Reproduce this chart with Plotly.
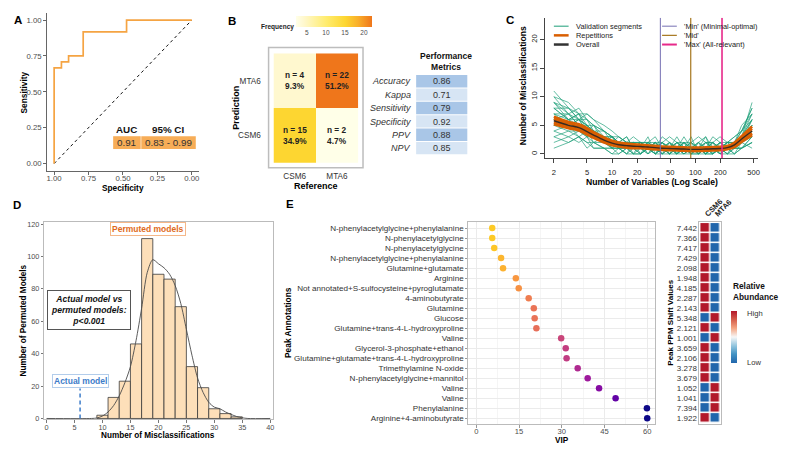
import plotly.graph_objects as go

W, H = 800, 457
def fx(p): return p / W
def fy(p): return 1 - p / H

FONT = "Liberation Sans, Arial, sans-serif"

# ---------------- Panel A : ROC ----------------
roc_spec = [1.0, 1.0, 0.947, 0.947, 0.895, 0.895, 0.789, 0.789, 0.474, 0.474, 0.0]
roc_sens = [0.0, 0.667, 0.667, 0.708, 0.708, 0.75, 0.75, 0.917, 0.917, 1.0, 1.0]
auc_headers = ["AUC", "95% CI"]
auc_values = ["0.91", "0.83 - 0.99"]
a_ticks = [0, 0.25, 0.5, 0.75, 1.0]
a_ticktext = ["0.00", "0.25", "0.50", "0.75", "1.00"]

# ---------------- Panel B : confusion matrix ----------------
cm_reference = ["CSM6", "MTA6"]
cm_prediction = ["CSM6", "MTA6"]
cm_counts = [[15, 2], [4, 22]]          # rows: prediction CSM6, MTA6 ; cols: reference
cm_percent = [["34.9%", "4.7%"], ["9.3%", "51.2%"]]
freq_ticks = [5, 10, 15, 20]
metric_names = ["Accuracy", "Kappa", "Sensitivity", "Specificity", "PPV", "NPV"]
metric_values = ["0.86", "0.71", "0.79", "0.92", "0.88", "0.85"]

# ---------------- Panel C : MUVR validation curves ----------------
n_vars = [2, 3, 4, 5, 6, 8, 10, 12, 15, 18, 22, 27, 33, 40, 49, 60, 73, 89, 109, 133, 162, 198, 242, 295, 360, 480]
validation_segments = [
    [8, 6, 7, 5, 4, 3, 2, 2, 1, 2, 1, 1, 2, 1, 1, 0, 1, 1, 0, 1, 1, 1, 2, 2, 3, 6],
    [5, 6, 4, 5, 3, 2, 3, 1, 2, 1, 2, 1, 1, 2, 1, 1, 0, 1, 1, 0, 1, 2, 1, 1, 2, 4],
    [11, 8, 6, 6, 5, 4, 2, 3, 2, 2, 1, 2, 3, 1, 0, 1, 1, 0, 1, 1, 0, 1, 1, 2, 3, 5],
    [3, 4, 3, 2, 2, 1, 1, 0, 1, 1, 1, 0, 1, 0, 1, 0, 0, 1, 0, 1, 1, 0, 1, 1, 1, 2],
    [7, 7, 5, 4, 4, 2, 2, 1, 1, 2, 2, 1, 1, 3, 2, 1, 1, 2, 1, 1, 2, 1, 1, 2, 4, 7],
    [9, 7, 8, 6, 4, 3, 2, 2, 3, 1, 1, 2, 2, 1, 1, 2, 1, 1, 2, 1, 3, 2, 1, 1, 3, 5],
    [4, 3, 4, 3, 2, 2, 1, 2, 1, 1, 0, 1, 0, 1, 0, 1, 1, 0, 1, 0, 0, 1, 0, 1, 2, 3],
    [6, 5, 6, 4, 3, 3, 3, 2, 2, 1, 2, 1, 1, 1, 1, 1, 2, 1, 1, 1, 0, 1, 2, 1, 2, 4],
    [10, 9, 7, 7, 6, 5, 4, 3, 2, 2, 2, 2, 1, 2, 1, 3, 1, 1, 2, 3, 1, 1, 1, 2, 2, 6],
    [2, 3, 2, 3, 1, 1, 1, 1, 0, 1, 1, 1, 0, 0, 1, 1, 0, 1, 1, 1, 1, 0, 0, 1, 2, 1],
    [7, 6, 5, 5, 5, 4, 3, 2, 2, 2, 1, 1, 2, 2, 1, 2, 1, 3, 0, 1, 1, 2, 2, 2, 3, 9],
    [5, 4, 4, 3, 3, 2, 1, 1, 1, 0, 1, 2, 1, 0, 1, 0, 1, 1, 1, 0, 1, 1, 1, 1, 1, 3],
    [8, 8, 6, 4, 3, 3, 2, 1, 2, 1, 1, 1, 1, 1, 2, 1, 2, 1, 1, 2, 1, 1, 2, 3, 4, 8],
    [1, 2, 3, 1, 2, 1, 0, 1, 0, 0, 0, 1, 0, 1, 0, 0, 1, 0, 0, 0, 1, 0, 1, 0, 1, 2],
    [6, 5, 5, 4, 3, 2, 2, 2, 1, 1, 1, 0, 1, 1, 0, 1, 0, 1, 1, 0, 0, 1, 1, 0, 2, 5],
    [9, 8, 7, 6, 5, 3, 3, 2, 1, 2, 2, 1, 2, 1, 2, 1, 2, 2, 1, 2, 2, 1, 2, 2, 5, 7],
    [3, 2, 3, 2, 1, 1, 0, 0, 1, 0, 0, 1, 0, 1, 1, 0, 1, 0, 0, 1, 0, 1, 0, 0, 1, 2],
    [7, 5, 6, 5, 4, 4, 3, 3, 2, 3, 2, 2, 1, 2, 3, 2, 1, 2, 3, 2, 2, 3, 2, 3, 4, 6],
    [4, 5, 3, 4, 3, 2, 2, 1, 1, 1, 0, 1, 1, 0, 0, 1, 0, 0, 1, 0, 1, 0, 1, 1, 1, 3],
    [10, 7, 6, 7, 6, 4, 3, 2, 2, 1, 2, 1, 2, 1, 1, 2, 2, 1, 1, 2, 1, 2, 1, 2, 4, 8],
    [6, 7, 5, 3, 4, 3, 1, 2, 1, 2, 0, 2, 1, 2, 0, 2, 1, 2, 0, 2, 1, 1, 0, 2, 3, 6],
    [8, 6, 6, 5, 4, 2, 2, 1, 2, 0, 2, 0, 2, 0, 2, 0, 2, 0, 2, 0, 2, 0, 2, 1, 2, 4],
    [5, 5, 4, 4, 2, 3, 1, 1, 0, 2, 1, 3, 0, 2, 1, 1, 3, 1, 1, 3, 0, 2, 1, 2, 3, 7],
    [9, 6, 7, 4, 5, 2, 3, 2, 3, 1, 2, 1, 0, 1, 2, 0, 1, 1, 2, 1, 2, 1, 1, 1, 2, 5],
]
repetitions = [
    [6.5, 5.6, 5.2, 4.5, 3.8, 2.9, 2.3, 2.0, 1.8, 1.7, 1.6, 1.5, 1.4, 1.3, 1.25, 1.2, 1.15, 1.1, 1.1, 1.15, 1.2, 1.25, 1.4, 2.0, 3.1, 4.8],
    [5.2, 4.5, 4.1, 3.4, 2.8, 2.0, 1.5, 1.3, 1.1, 1.0, 1.0, 0.9, 0.8, 0.7, 0.65, 0.6, 0.55, 0.5, 0.5, 0.55, 0.6, 0.65, 0.8, 1.2, 2.1, 3.3],
    [6.1, 5.3, 4.8, 4.2, 3.5, 2.6, 2.1, 1.7, 1.6, 1.5, 1.4, 1.3, 1.2, 1.1, 1.05, 1.0, 0.95, 0.9, 0.95, 1.0, 1.0, 1.05, 1.25, 1.8, 2.9, 4.4],
    [5.5, 4.8, 4.3, 3.6, 3.1, 2.2, 1.7, 1.5, 1.3, 1.2, 1.15, 1.1, 1.0, 0.9, 0.85, 0.8, 0.75, 0.7, 0.7, 0.7, 0.8, 0.85, 0.95, 1.4, 2.3, 3.6],
]
overall = [5.8, 5.0, 4.6, 3.9, 3.3, 2.4, 1.9, 1.6, 1.45, 1.35, 1.3, 1.2, 1.1, 1.0, 0.95, 0.9, 0.85, 0.8, 0.8, 0.85, 0.9, 0.95, 1.1, 1.6, 2.6, 4.0]
model_names = ["'Min' (Minimal-optimal)", "'Mid'", "'Max' (All-relevant)"]
model_nvars = [38, 88, 209]
c_xticks = [2, 5, 10, 20, 50, 100, 200, 500]
c_yticks = [0, 5, 10, 15, 20]

# ---------------- Panel D : permutation histogram ----------------
hist_centers = [10, 12, 14, 16, 18, 20, 22, 24, 26, 28, 30, 32, 34]
hist_counts = [2, 13, 23, 46, 111, 89, 86, 69, 32, 19, 6, 3, 1]
dens_x = [0, 8, 9, 10, 11, 12, 13, 14, 15, 16, 17, 18, 19, 20, 21, 22, 23, 24, 25, 26, 27, 28, 29, 30, 31, 32, 33, 34, 35, 36, 40]
dens_y = [0, 0, 0.3, 1.5, 4, 8, 14, 22, 32, 48, 68, 90, 98, 95.5, 93, 89, 82, 71, 55, 39, 25, 16, 10, 7, 6, 4, 2.5, 1.2, 0.4, 0, 0]
actual_model = 6
d_xticks = [0, 5, 10, 15, 20, 25, 30, 35, 40]
d_yticks = [0, 20, 40, 60, 80, 100, 120]

# ---------------- Panel E : VIP + heatmap ----------------
peak_annotations = [
    "N-phenylacetylglycine+phenylalanine", "N-phenylacetylglycine", "N-phenylacetylglycine",
    "N-phenylacetylglycine+phenylalanine", "Glutamine+glutamate", "Arginine",
    "Not annotated+S-sulfocysteine+pyroglutamate", "4-aminobutyrate", "Glutamine", "Glucose",
    "Glutamine+trans-4-L-hydroxyproline", "Valine", "Glycerol-3-phosphate+ethanol",
    "Glutamine+glutamate+trans-4-L-hydroxyproline", "Trimethylamine N-oxide",
    "N-phenylacetylglycine+mannitol", "Valine", "Valine", "Phenylalanine", "Arginine+4-aminobutyrate",
]
vip = [5.6, 5.6, 6.3, 8.7, 9.4, 13.9, 14.9, 18.4, 20.2, 20.5, 21.1, 29.8, 31.4, 31.7, 35.6, 39.1, 43.1, 48.9, 59.9, 60.0]
ppm = ["7.442", "7.366", "7.417", "7.429", "2.098", "1.948", "4.185", "2.287", "2.143", "5.348",
       "2.121", "1.001", "3.659", "2.106", "3.278", "3.679", "1.052", "1.041", "7.394", "1.922"]
csm6_abundance = [1, 1, 1, 1, 1, 1, 1, 1, 1, -1, 1, -1, 1, 1, 1, 1, -1, -1, -1, 1]
mta6_abundance = [-1, -1, -1, -1, -1, -1, -1, -1, -1, 1, -1, 1, -1, -1, -1, -1, 1, 1, 1, -1]
groups = ["CSM6", "MTA6"]
e_xticks = [0, 15, 30, 45, 60]

plasma_rev = ['#fdca26', '#fb9f3a', '#ed7953', '#d8576b', '#bd3786', '#9c179e', '#7201a8', '#46039f', '#0d0887']
plasma_scale = [[i / (len(plasma_rev) - 1), c] for i, c in enumerate(plasma_rev)]
rdbu_scale = [[0, '#2166AC'], [0.17, '#4393C3'], [0.33, '#92C5DE'], [0.5, '#F7F7F7'],
              [0.67, '#F4A582'], [0.83, '#D6604D'], [1, '#B2182B']]
freq_scale = [[0, '#FFFFE8'], [0.1, '#FFF8CF'], [0.4, '#FFEC6E'], [0.65, '#FDD631'],
              [0.82, '#F9AE2A'], [1, '#EF761B']]

fig = go.Figure()

# ---- A traces
fig.add_trace(go.Scatter(x=[1, 0], y=[0, 1], mode='lines', xaxis='x', yaxis='y',
                         line=dict(color='#111', width=1, dash='3px,3px'), hoverinfo='skip'))
fig.add_trace(go.Scatter(x=roc_spec, y=roc_sens, mode='lines', xaxis='x', yaxis='y',
                         line=dict(color='#F5A443', width=1.7), hoverinfo='skip'))

# ---- B heatmap
fig.add_trace(go.Heatmap(z=cm_counts, x=[0, 1], y=[0, 1], xaxis='x2', yaxis='y2',
                         colorscale=freq_scale, zmin=2, zmax=22, hoverinfo='skip',
                         colorbar=dict(orientation='h', x=fx(338), xanchor='center', y=fy(14.5), yanchor='top',
                                       len=76, lenmode='pixels', thickness=11, thicknessmode='pixels',
                                       xpad=0, ypad=0, outlinewidth=0, tickvals=freq_ticks, ticks='',
                                       tickfont=dict(size=6.5, color='#4D4D4D', family=FONT))))

# ---- C traces
for seg in validation_segments:
    fig.add_trace(go.Scatter(x=n_vars, y=seg, mode='lines', xaxis='x3', yaxis='y3', opacity=0.75,
                             line=dict(color='#1B9E77', width=0.9), hoverinfo='skip'))
for rep in repetitions:
    fig.add_trace(go.Scatter(x=n_vars, y=rep, mode='lines', xaxis='x3', yaxis='y3',
                             line=dict(color='#D95F02', width=2.6, shape='spline'), hoverinfo='skip'))
fig.add_trace(go.Scatter(x=n_vars, y=overall, mode='lines', xaxis='x3', yaxis='y3',
                         line=dict(color='#3A2A20', width=1.4, shape='spline'), hoverinfo='skip'))
model_colors = ['#7570B3', '#A6761D', '#E7298A']
model_widths = [1.0, 1.2, 1.6]
for v, c, w in zip(model_nvars, model_colors, model_widths):
    fig.add_trace(go.Scatter(x=[v, v], y=[-0.7, 23.8], mode='lines', xaxis='x3', yaxis='y3',
                             line=dict(color=c, width=w), hoverinfo='skip'))

# ---- D traces
fig.add_trace(go.Bar(x=hist_centers, y=hist_counts, width=2, xaxis='x4', yaxis='y4',
                     marker=dict(color='#FDDFB9', line=dict(color='#3A3A3A', width=0.8)), hoverinfo='skip'))
fig.add_trace(go.Scatter(x=dens_x, y=dens_y, mode='lines', xaxis='x4', yaxis='y4',
                         line=dict(color='#4A4A4A', width=0.9, shape='spline', smoothing=0.8), hoverinfo='skip'))
fig.add_trace(go.Scatter(x=[actual_model, actual_model], y=[0, 18.5], mode='lines', xaxis='x4', yaxis='y4',
                         line=dict(color='#3D7CC9', width=1.5, dash='4px,3px'), hoverinfo='skip'))

# ---- E dot plot
rows = list(range(len(peak_annotations)))
fig.add_trace(go.Scatter(x=vip, y=rows, mode='markers', xaxis='x5', yaxis='y5',
                         marker=dict(size=6.5, color=vip, colorscale=plasma_scale, cmin=min(vip), cmax=max(vip),
                                     showscale=False, line=dict(width=0)), hoverinfo='skip'))

# ---- E heatmap
heat_z = [[c, m] for c, m in zip(csm6_abundance, mta6_abundance)]
fig.add_trace(go.Heatmap(z=heat_z, x=[0, 1], y=rows, xaxis='x6', yaxis='y6', colorscale=rdbu_scale,
                         zmin=-1, zmax=1, xgap=1.5, ygap=1.5, hoverinfo='skip',
                         colorbar=dict(x=fx(742), xanchor='left', y=fy(313), yanchor='top', len=52,
                                       lenmode='pixels', thickness=6, thicknessmode='pixels', xpad=0, ypad=0,
                                       outlinewidth=0, showticklabels=False, ticks='')))

# ---------------- axes ----------------
def tf(size, color='#4D4D4D'):
    return dict(size=size, color=color, family=FONT)

layout_axes = dict(
    xaxis=dict(domain=[fx(47), fx(201)], range=[1.05, -0.05], anchor='y', tickvals=a_ticks, ticktext=a_ticktext,
               showline=True, linecolor='#666', linewidth=1, ticks='outside', ticklen=3, tickcolor='#666',
               ticklabelstandoff=-3, tickfont=tf(7.8), showgrid=False, zeroline=False),
    yaxis=dict(domain=[fy(171), fy(11)], range=[-0.05, 1.05], anchor='x', tickvals=a_ticks, ticktext=a_ticktext,
               showline=True, linecolor='#666', linewidth=1, ticks='outside', ticklen=3, tickcolor='#666',
               tickfont=tf(7.8), showgrid=False, zeroline=False),
    xaxis2=dict(domain=[fx(277), fx(363)], range=[-0.5, 1.5], anchor='y2', tickvals=[0, 1], ticktext=cm_reference,
                ticks='outside', ticklen=5, tickcolor='rgba(0,0,0,0)', tickfont=tf(8.2, '#333'),
                showgrid=False, zeroline=False, showline=False),
    yaxis2=dict(domain=[fy(163), fy(52)], range=[-0.5, 1.5], anchor='x2', tickvals=[0, 1], ticktext=cm_prediction,
                ticks='outside', ticklen=10, tickcolor='rgba(0,0,0,0)', tickfont=tf(8.2, '#333'),
                showgrid=False, zeroline=False, showline=False),
    xaxis3=dict(domain=[fx(553), fx(770)], type='log', range=[0.195, 2.758], anchor='y3',
                tickvals=c_xticks, ticktext=[str(t) for t in c_xticks], ticks='outside', ticklen=4,
                tickcolor='#444', ticklabelstandoff=3, tickfont=tf(7.6, '#222'),
                showline=True, linecolor='#444', linewidth=1, showgrid=False, zeroline=False),
    yaxis3=dict(domain=[fy(158), fy(16)], range=[-0.7, 23.8], anchor='x3', tickvals=c_yticks,
                tickangle=-90, ticks='outside', ticklen=4, tickcolor='#444', tickfont=tf(7.6, '#222'),
                showline=True, linecolor='#444', linewidth=1, showgrid=False, zeroline=False),
    xaxis4=dict(domain=[fx(44), fx(276)], range=[-0.4, 40.4], anchor='y4', tickvals=d_xticks,
                ticks='outside', ticklen=2.5, tickcolor='#777', ticklabelstandoff=-2, tickfont=tf(7.3),
                showline=True, mirror=True, linecolor='#BBBBBB', linewidth=1, showgrid=False, zeroline=False),
    yaxis4=dict(domain=[fy(423), fy(223)], range=[-0.6, 121.2], anchor='x4', tickvals=d_yticks,
                ticks='outside', ticklen=2.5, tickcolor='#777', tickfont=tf(7.3),
                showline=True, mirror=True, linecolor='#BBBBBB', linewidth=1, showgrid=False, zeroline=False),
    xaxis5=dict(domain=[fx(475), fx(665)], range=[-2.8, 62.8], anchor='y5', tickvals=e_xticks,
                ticks='outside', ticklen=2.5, tickcolor='#999', ticklabelstandoff=-3, tickfont=tf(7.6),
                showgrid=True, gridcolor='#EBEBEB', gridwidth=1,
                minor=dict(tickvals=[7.5, 22.5, 37.5, 52.5], showgrid=True, gridcolor='#F5F5F5', ticks=''),
                showline=True, mirror=True, linecolor='#BBBBBB', linewidth=1, zeroline=False),
    yaxis5=dict(domain=[fy(428), fy(223)], range=[19.6, -0.6], anchor='x5', tickvals=rows, ticktext=peak_annotations,
                ticks='outside', ticklen=2, tickcolor='#999', tickfont=tf(8.1, '#333'),
                showgrid=True, gridcolor='#EBEBEB', gridwidth=1,
                showline=True, mirror=True, linecolor='#BBBBBB', linewidth=1, zeroline=False),
    xaxis6=dict(domain=[fx(710), fx(732)], range=[-0.6, 1.6], anchor='y6', side='top', tickvals=[0, 1],
                ticktext=['<b>' + g + '</b>' for g in groups], tickangle=-45, ticks='', tickfont=tf(7.6, '#222'),
                showline=True, mirror=True, linecolor='#BBBBBB', linewidth=1, showgrid=False, zeroline=False),
    yaxis6=dict(domain=[fy(428), fy(223)], range=[19.6, -0.6], anchor='x6', tickvals=rows, ticktext=ppm,
                ticks='', tickfont=tf(8, '#333'),
                showline=True, mirror=True, linecolor='#BBBBBB', linewidth=1, showgrid=False, zeroline=False),
)

# ---------------- annotations & shapes ----------------
def ann(text, x, y, size=8, color='#000', xanchor='center', yanchor='middle', angle=0, **kw):
    return dict(text=text, x=fx(x), y=fy(y), xref='paper', yref='paper', showarrow=False,
                font=dict(size=size, color=color, family=FONT), xanchor=xanchor, yanchor=yanchor,
                textangle=angle, **kw)

annotations = []
shapes = []

# panel letters
for letter, x, y in [("A", 17, 18), ("B", 235, 19), ("C", 517, 18), ("D", 16, 206), ("E", 294, 205)]:
    annotations.append(ann('<b>' + letter + '</b>', x, y, size=11.5))

# A
annotations.append(ann('<b>Sensitivity</b>', 23, 92, size=8.3, angle=-90))
annotations.append(ann('<b>Specificity</b>', 124, 188, size=8.3))
shapes.append(dict(type='rect', xref='paper', yref='paper', x0=fx(114), x1=fx(142), y0=fy(149), y1=fy(136),
                   fillcolor='#F7AD57', line=dict(width=0)))
shapes.append(dict(type='rect', xref='paper', yref='paper', x0=fx(142.6), x1=fx(198), y0=fy(149), y1=fy(136),
                   fillcolor='#F7AD57', line=dict(width=0)))
for h, v, cx in zip(auc_headers, auc_values, [128, 170]):
    annotations.append(ann('<b>' + h + '</b>', cx, 129, size=9.8, color='#111'))
    annotations.append(ann(v, cx, 142.8, size=9.8, color='#333'))

# B
annotations.append(ann('<b>Frequency</b>', 281, 25, size=6.5, color='#222'))
shapes.append(dict(type='rect', xref='paper', yref='paper', x0=fx(272), x1=fx(368), y0=fy(168), y1=fy(46),
                   line=dict(color='#BDBDBD', width=1.5), layer='below'))
for i in range(2):
    for j in range(2):
        annotations.append(dict(text='<b>n = %d</b><br><b>%s</b>' % (cm_counts[i][j], cm_percent[i][j]),
                                x=j, y=i, xref='x2', yref='y2', showarrow=False,
                                font=dict(size=8.3, color='#222', family=FONT)))
annotations.append(ann('<b>Prediction</b>', 238, 107, size=9, angle=-90))
annotations.append(ann('<b>Reference</b>', 320, 186, size=9))
annotations.append(ann('<b>Performance</b><br><b>Metrics</b>', 452, 60, size=8.5, color='#111'))
row_h = 13.55
for i, (name, val) in enumerate(zip(metric_names, metric_values)):
    y0 = 74 + i * row_h
    shapes.append(dict(type='rect', xref='paper', yref='paper', x0=fx(422), x1=fx(474),
                       y0=fy(y0 + row_h - 1), y1=fy(y0),
                       fillcolor='#A9C6E7' if i % 2 == 0 else '#D7E5F4', line=dict(width=0)))
    annotations.append(ann('<i>' + name + '</i>', 419, y0 + row_h / 2 - 0.3, size=9, color='#333', xanchor='right'))
    annotations.append(ann(val, 448, y0 + row_h / 2 - 0.3, size=9, color='#333'))

# C
annotations.append(ann('<b>Number of Variables (Log Scale)</b>', 662, 182, size=8.6))
annotations.append(ann('<b>Number of Misclassifications</b>', 531, 85, size=8.6, angle=-90))
legend_left = [("Validation segments", '#1B9E77', 1.0), ("Repetitions", '#D95F02', 2.5), ("Overall", '#333333', 2.5)]
legend_right = list(zip(model_names, model_colors, [1.0, 1.2, 2.0]))
for col, (lx, items) in enumerate([(562, legend_left), (672, legend_right)]):
    for k, (name, color, w) in enumerate(items):
        yy = 24.5 + k * 9.3
        shapes.append(dict(type='line', xref='paper', yref='paper', x0=fx(lx), x1=fx(lx + 15), y0=fy(yy), y1=fy(yy),
                           line=dict(color=color, width=w)))
        annotations.append(ann(name, lx + 20, yy, size=7.4, color='#222', xanchor='left'))

# D
annotations.append(ann('<b>Number of Permuted Models</b>', 23, 323, size=8.2, angle=-90))
annotations.append(ann('<b>Number of Misclassifications</b>', 160, 439, size=8.2))
annotations.append(ann('<b>Permuted models</b>', 149, 230.5, size=8.5, color='#E06A1B',
                       bgcolor='white', bordercolor='#F5B88A', borderwidth=1, borderpad=1))
annotations.append(ann('<b>Actual model</b>', 80.5, 384, size=8.5, color='#3D7CC9',
                       bgcolor='white', bordercolor='#B3CDEB', borderwidth=1, borderpad=1))
annotations.append(ann('<b><i>Actual model vs<br>permuted models:<br>p&lt;0.001</i></b>', 89.5, 312, size=8.6,
                       color='#111', bgcolor='white', bordercolor='#555', borderwidth=1, borderpad=3))

# E
annotations.append(ann('<b>Peak Annotations</b>', 291, 325, size=8.4, angle=-90))
annotations.append(ann('<b>VIP</b>', 570, 444, size=8.2))
annotations.append(ann('<b>Peak PPM Shift Values</b>', 681, 325, size=8, angle=-90))
annotations.append(ann('<b>Relative<br>Abundance</b>', 742, 293, size=8.3, color='#111', xanchor='left', align='left'))
annotations.append(ann('High', 756, 316, size=7.6, color='#333', xanchor='left'))
annotations.append(ann('Low', 756, 365, size=7.6, color='#333', xanchor='left'))

fig.update_layout(
    width=W, height=H, margin=dict(l=0, r=0, t=0, b=0),
    paper_bgcolor='white', plot_bgcolor='white', showlegend=False,
    font=dict(family=FONT, color='#222'),
    annotations=annotations, shapes=shapes, **layout_axes,
)

fig.write_html("out.html", config={'displayModeBar': False},
               post_script="document.body.style.margin='0px'; document.documentElement.style.overflow='hidden'; document.body.style.overflow='hidden';")
